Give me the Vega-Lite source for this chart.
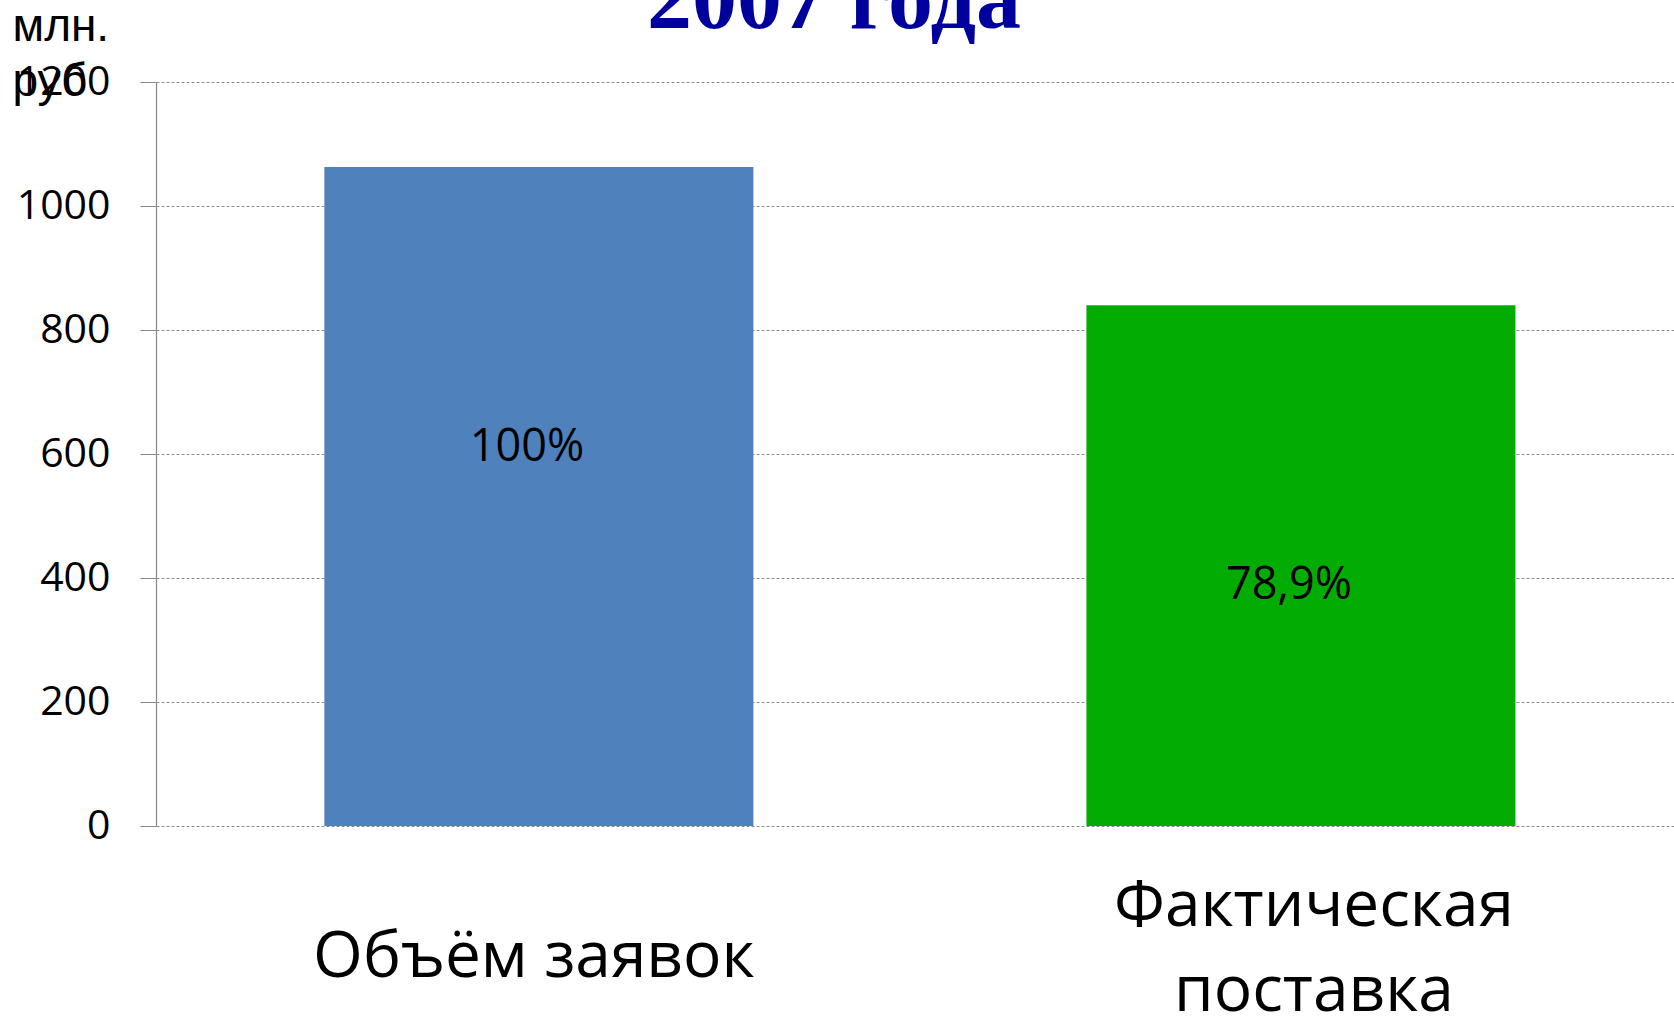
{
  "$schema": "https://vega.github.io/schema/vega-lite/v6.json",
  "width": 1518,
  "height": 744,
  "padding": {"left": 156, "top": 82, "right": 0, "bottom": 192},
  "autosize": {"type": "none"},
  "background": "white",
  "title": {
    "text": "2007 года",
    "font": "Liberation Serif",
    "fontWeight": "bold",
    "fontSize": 90,
    "color": "#00009C",
    "anchor": "middle",
    "frame": "group",
    "baseline": "alphabetic",
    "offset": -115,
    "dx": -81
  },
  "data": {
    "values": [
      {"category": "Объём заявок", "value": 1063, "label": "100%"},
      {"category": "Фактическая поставка", "value": 840, "label": "78,9%"}
    ]
  },
  "config": {
    "view": {"stroke": null},
    "font": "Open Sans"
  },
  "encoding": {
    "x": {
      "field": "category",
      "type": "nominal",
      "sort": null,
      "scale": {"paddingInner": 0.437, "paddingOuter": 0.2145, "align": 0.515},
      "axis": {
        "title": null,
        "domain": false,
        "ticks": false,
        "tickSize": 0,
        "labelAngle": 0,
        "labelFont": "Open Sans",
        "labelFontSize": 64,
        "labelColor": "#000000",
        "labelBaseline": {"condition": {"test": "datum.value == 'Фактическая поставка'", "value": "alphabetic"}, "value": "top"},
        "labelOffset": {"condition": {"test": "datum.value == 'Фактическая поставка'", "value": 13}, "value": -5},
        "labelPadding": 99,
        "labelLineHeight": 85,
        "labelLimit": 0,
        "labelExpr": "datum.label == 'Фактическая поставка' ? ['Фактическая', 'поставка'] : datum.label"
      }
    }
  },
  "layer": [
    {
      "mark": {"type": "bar"},
      "encoding": {
        "y": {
          "field": "value",
          "type": "quantitative",
          "scale": {"domain": [0, 1200], "nice": false},
          "axis": {
            "values": [0, 200, 400, 600, 800, 1000, 1200],
            "format": "d",
            "title": ["млн.", "руб"],
            "titleFont": "Liberation Sans",
            "titleFontSize": 46,
            "titleFontWeight": "normal",
            "titleColor": "#000000",
            "titleAngle": 0,
            "titleAlign": "left",
            "titleBaseline": "alphabetic",
            "titleX": -144,
            "titleY": -42,
            "titleLineHeight": 55,
            "labelFont": "Open Sans",
            "labelFontSize": 41,
            "labelColor": "#000000",
            "labelPadding": 30,
            "tickSize": 16,
            "tickColor": "#868686",
            "domainColor": "#868686",
            "domainWidth": 1.2,
            "grid": true,
            "gridColor": "#8c8c8c",
            "gridDash": [3, 2],
            "gridWidth": 1
          }
        },
        "color": {
          "field": "category",
          "type": "nominal",
          "scale": {"domain": ["Объём заявок", "Фактическая поставка"], "range": ["#4F81BD", "#03AC03"]},
          "legend": null
        }
      }
    },
    {
      "mark": {"type": "text", "font": "Open Sans", "fontSize": 45, "color": "#000000", "baseline": "middle", "dx": -12, "dy": 280},
      "encoding": {
        "y": {"field": "value", "type": "quantitative"},
        "text": {"field": "label"}
      }
    }
  ]
}
